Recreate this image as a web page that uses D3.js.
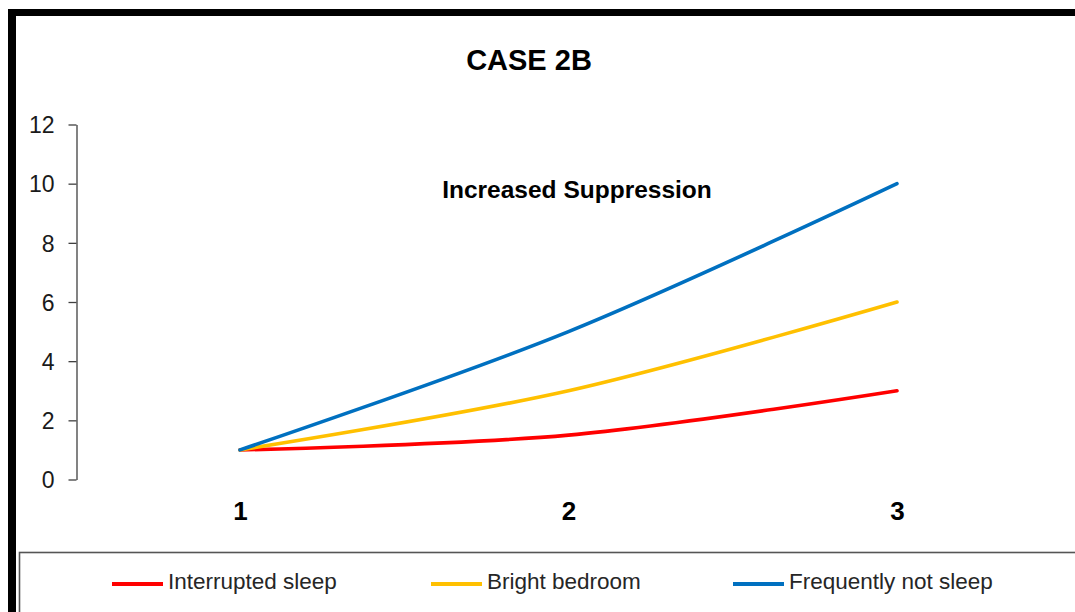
<!DOCTYPE html>
<html>
<head>
<meta charset="utf-8">
<script src="https://cdn.jsdelivr.net/npm/d3@7"></script>
<style>
  html, body { margin: 0; padding: 0; background: #fff; }
  svg { display: block; font-family: "Liberation Sans", Arial, sans-serif; }
</style>
</head>
<body>
<svg id="chart" width="1075" height="612"></svg>
<script>
// Chart data
const categories = [1, 2, 3];
const interruptedSleep = [1, 1.5, 3];
const brightBedroom = [1, 3, 6];
const frequentlyNotSleep = [1, 5, 10];
const yTicks = [0, 2, 4, 6, 8, 10, 12];
const seriesNames = ["Interrupted sleep", "Bright bedroom", "Frequently not sleep"];
const seriesColors = ["#FF0000", "#FFC000", "#0070C0"];

const series = [interruptedSleep, brightBedroom, frequentlyNotSleep].map((vals, i) => ({
  name: seriesNames[i],
  color: seriesColors[i],
  values: vals.map((v, j) => ({ x: categories[j], y: v }))
}));

const svg = d3.select("#chart");

// Frame: heavy black border along top and left
svg.append("rect").attr("x", 8).attr("y", 9).attr("width", 1075).attr("height", 7).attr("fill", "#000");
svg.append("rect").attr("x", 8).attr("y", 9).attr("width", 8).attr("height", 612).attr("fill", "#000");

// Scales
const x = d3.scaleLinear().domain([1, 3]).range([240, 897]);
const y = d3.scaleLinear().domain([0, 12]).range([479.5, 124.5]);

// Title
svg.append("text")
  .attr("x", 529).attr("y", 70)
  .attr("text-anchor", "middle")
  .attr("font-size", 29).attr("font-weight", "bold").attr("fill", "#000")
  .text("CASE 2B");

// Y axis
const yAxis = svg.append("g")
  .attr("transform", "translate(76.5,0)")
  .call(d3.axisLeft(y).tickValues(yTicks).tickSize(8).tickPadding(14).tickSizeOuter(0));
yAxis.select(".domain").attr("stroke", "#404040").attr("stroke-width", 1.3);
yAxis.selectAll(".tick line").attr("stroke", "#404040").attr("stroke-width", 1.3);
yAxis.selectAll(".tick text")
  .attr("font-size", 23).attr("fill", "#1a1a1a")
  .attr("font-family", "'Liberation Sans', Arial, sans-serif")
  .attr("dy", "0.36em");

// X category labels
const xAxis = svg.append("g")
  .attr("transform", "translate(0,479.5)")
  .call(d3.axisBottom(x).tickValues(categories).tickFormat(d3.format("d")).tickSize(0).tickPadding(22));
xAxis.select(".domain").remove();
xAxis.selectAll(".tick text")
  .attr("font-size", 26).attr("font-weight", "bold").attr("fill", "#000")
  .attr("font-family", "'Liberation Sans', Arial, sans-serif");

// Annotation
svg.append("text")
  .attr("x", 577).attr("y", 198)
  .attr("text-anchor", "middle")
  .attr("font-size", 24.5).attr("font-weight", "bold").attr("fill", "#000")
  .text("Increased Suppression");

// Smoothed series lines
const line = d3.line()
  .x(d => x(d.x))
  .y(d => y(d.y))
  .curve(d3.curveCardinal.tension(0));

svg.append("g").selectAll("path")
  .data(series)
  .join("path")
  .attr("d", d => line(d.values))
  .attr("fill", "none")
  .attr("stroke", d => d.color)
  .attr("stroke-width", 3.6)
  .attr("stroke-linecap", "round");

// Legend box
svg.append("rect")
  .attr("x", 19.5).attr("y", 552.5)
  .attr("width", 1100).attr("height", 100)
  .attr("fill", "#fff").attr("stroke", "#555").attr("stroke-width", 1.6);

const legendX = [112, 431, 733];
const legend = svg.append("g").selectAll("g")
  .data(series)
  .join("g")
  .attr("transform", (d, i) => `translate(${legendX[i]},584)`);
legend.append("line")
  .attr("x1", 0).attr("x2", 51).attr("y1", 0).attr("y2", 0)
  .attr("stroke", d => d.color).attr("stroke-width", 4);
legend.append("text")
  .attr("x", 56).attr("y", 5)
  .attr("font-size", 22.5).attr("fill", "#262626")
  .text(d => d.name);
</script>
</body>
</html>
